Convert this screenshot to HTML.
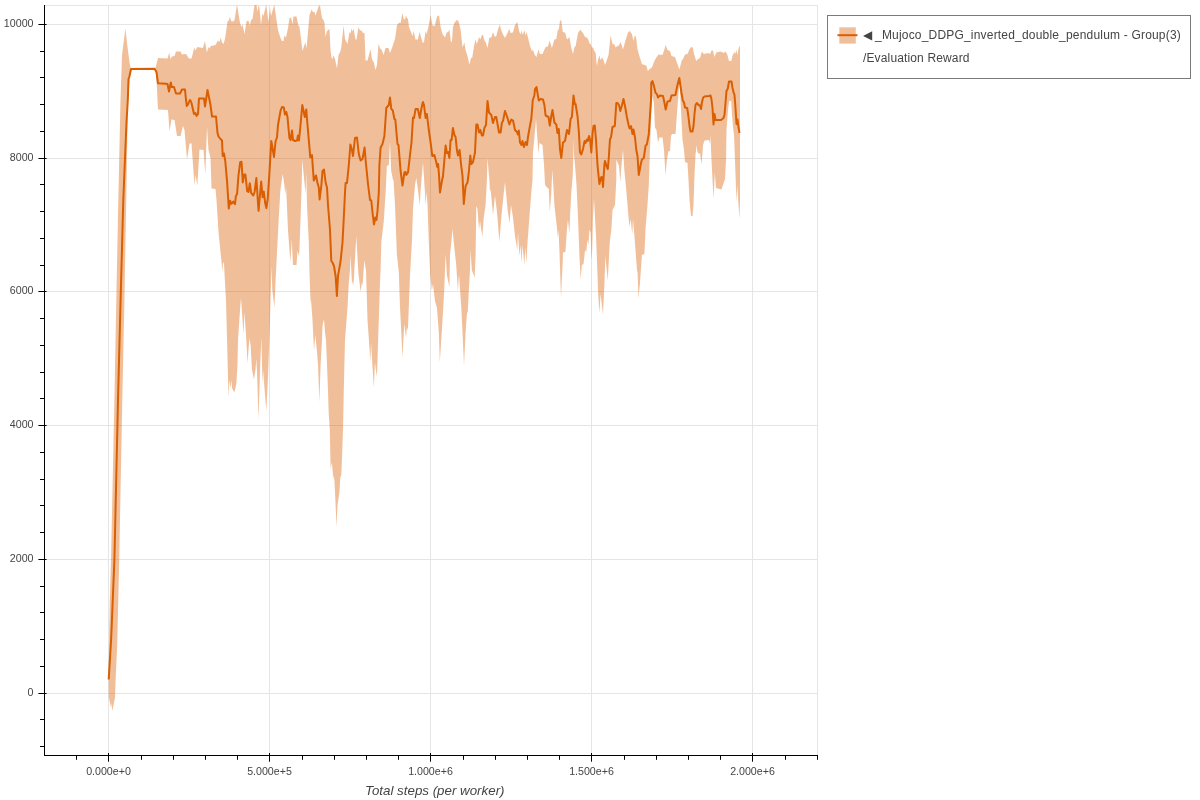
<!DOCTYPE html>
<html><head><meta charset="utf-8">
<style>
html,body{margin:0;padding:0;background:#fff;}
body{width:1200px;height:800px;overflow:hidden;position:relative;font-family:"Liberation Sans",sans-serif;}
svg{position:absolute;left:0;top:0;will-change:transform;}
text{font-family:"Liberation Sans",sans-serif;fill:#444;}
</style></head><body>
<svg width="1200" height="800" viewBox="0 0 1200 800">
<defs><clipPath id="fr"><rect x="45" y="5" width="773" height="750"/></clipPath></defs>
<!-- frame -->
<rect x="44.5" y="5.5" width="773" height="750" fill="#fff" stroke="#e5e5e5" stroke-width="1"/>
<!-- grid -->
<g stroke="#e5e5e5" stroke-width="1" shape-rendering="crispEdges">
<line x1="108.5" y1="5" x2="108.5" y2="755"/><line x1="269.5" y1="5" x2="269.5" y2="755"/><line x1="430.5" y1="5" x2="430.5" y2="755"/><line x1="591.5" y1="5" x2="591.5" y2="755"/><line x1="752.5" y1="5" x2="752.5" y2="755"/>
<line x1="45" y1="24.5" x2="818" y2="24.5"/><line x1="45" y1="158.5" x2="818" y2="158.5"/><line x1="45" y1="291.5" x2="818" y2="291.5"/><line x1="45" y1="425.5" x2="818" y2="425.5"/><line x1="45" y1="559.5" x2="818" y2="559.5"/><line x1="45" y1="693.5" x2="818" y2="693.5"/>
</g>
<g clip-path="url(#fr)">
<!--BAND--><polygon points="108.7,668 109,645 109.8,600 111,560 114.4,400 116.3,300 118.3,200 120.5,100 122,55 125.4,28.5 127.5,47 129.5,62 130.6,68 155,68.3 155.5,68 156.5,64 158,58 167.5,58.5 169.3,52.5 170.3,59 172,56.5 174.5,56 176,51.5 180.5,51.5 182,54.5 185,54 186.5,54.5 188.8,58.5 191.5,58.5 194.3,47.5 195.3,50.5 197.5,47 203,48 204.8,41 206,47 206.8,52.5 208.5,47 209.3,48.5 211,46 215.5,45 218,40.5 219.5,42 220.8,37.5 222,42.5 223.5,44 225,39 227.5,21.5 229,20 230,16.5 231,21 233,21.5 234.5,20 237,4.3 240,23 241.5,27 242.5,24.5 244.5,34 246.5,21.5 248,20.5 249,22 249.8,26 251,20 252.5,19 254.5,5 255.5,2 256.5,5 257.5,12 258.5,5 259.5,8 261,25 262.5,13 263.5,16 266.2,4.3 268.5,22 270,8 271,16 274.3,4.5 276.5,20 278,30 280.5,38 282,41 283.5,41 284.5,35.5 286,37.5 288,28 289.5,18 291,17.5 292.5,24 293.5,16.5 296.5,16.5 298.5,26 299.5,26.5 302.5,51 304,46 305.5,42.5 306.5,48.5 309.5,15 311.5,9.5 313,12 314.5,12 315.5,15.5 317,11 319,5.5 320,5.5 322,18 323.5,20 324.5,23 325.5,37 327,31 329.5,29 330.5,50 331.5,57.5 332.5,59 333.5,55.5 335,59 337,68.5 338.5,55 340.5,51 341.5,46 343.5,25.5 345,39 346,41 347.5,44 349.5,32 350.5,33.5 351.5,28.5 352.5,31.5 353.5,28.5 355.5,39.5 356.5,39.5 358.5,27 360,30.5 361.5,30.5 363,33 364.5,33 365.5,60.5 367.5,60.5 370.5,49 372,59 374,63 375.5,70 377,65 378.5,43.5 380,48 382,50.5 383.5,55 385.5,48 388.5,48 390,53 392,48 393.8,42.5 395,39 397,25 399.4,22.5 400.6,23 402.3,13 403.8,19 405,19.5 406,15.5 407,18 408,19 409,27 410.6,31 412.5,36 413.8,31 415.4,39.5 417.8,39.5 419.6,32 421.3,38 422.8,43 424,42 425.6,31 426.6,34 428.8,25 430.6,15 432.5,25.5 434.8,26 436,20.5 437.3,16 439,15.5 440.6,27 442.5,34 445,37.5 446.9,32 448,32.5 449.4,29.5 451,42.5 452,41 452.9,27.5 454.4,23 456.6,20 458.5,21 460.6,29.5 462.5,47.5 464.4,42.5 465.6,50 467.5,56 469.4,64.5 471,58 472.3,57.5 473.8,47.5 475.4,39.5 476.9,44 479,37 480.3,39.5 481.9,35 483,35 484.4,40.5 485.6,42 487.5,48 489.4,37.5 491.3,37.5 493,32 494.8,37 496.3,36 497.8,30 499.8,24.5 501.5,31 503,34.5 505,38 507.5,33 509.4,29 510.6,33 513,32.5 514.8,25.5 517.3,22 519.4,32 520.6,34.5 521.5,30.5 522.8,35 524.4,30 525.4,35.5 526.5,32 528,37.5 530,46 531.9,51 533,50 534.8,55 536.5,57 538.5,49.5 539.8,54 542.5,54 545.6,47 548,46.5 549.6,40.5 551.9,48 554.4,39.5 556.3,39 557.8,30 558.8,29.5 560,20.5 561.3,20.5 562.8,32 565,32.5 567,39.5 569.4,37 571.3,48 573,54 574.4,47.5 575.6,46 578,33 580.4,29.5 581.9,32 583,33 585,37 586.9,37.5 588,39 589.4,43 590.9,44.5 591.9,47.5 593,47.5 594.4,51 595.6,52.5 596.9,66 598,60 599.4,55.5 600.6,60 602.3,57.5 603.8,61 605,65 606.9,60 608.5,55 610.6,35.5 612.5,44 614.4,44.5 615.6,47.5 617.5,46 619,45.5 620.4,42 621.9,45.5 623,49.5 625.6,40 628,32.5 629.6,31 631.9,34 633.5,41 634.8,35.5 636,37 637.5,49 639.4,56 641.9,64 644.4,65 646.3,65.5 647.8,71 649.8,69 651.9,67.5 654.4,61 656.3,57.5 658.5,54.5 662.5,55 664.4,49.5 665.6,45 667.5,50 670,51 671.5,56 675,57 676.3,61 678,65.5 679.4,69.5 680.6,65 681.9,60 683,59 685,54.5 687.5,54 689.4,49.5 691,47 692.8,47.5 694,54 696.3,61 698,59 700,58 701.9,51.5 703.8,54 706.3,53.5 708,53 710,54 711.5,50.5 713,50.5 714.4,57 716.3,52.5 720,51.5 721.9,52 723.8,53 725.6,51.5 727.3,54.5 729,61 731.3,61 732.9,54.5 734.8,52 735.5,54 736.3,49.5 737.3,55 738.5,49 739.4,46 740,47 740,200 739.5,219 738.5,205 737.2,185 736.5,202.5 735.5,175 734.8,155 734,135 733,127 732,115 731.2,101 729.2,101 728,110 726.5,130 726,160 725,179 723,185 721.5,189.5 716,188 714.8,173 713.5,199 712,170 711,150 710.5,134.5 710,144 709,140 704.5,140.5 703,145 702.5,153 701.5,164.5 700,153 699,154 697.5,152 696.5,145.5 695.5,155 694.5,175 693.5,205 692.5,216 691,216 689.5,200 688.5,180 687.5,163 685,162 684,150 682.5,140 681.5,120 680.5,100 679.5,82 678,100 676.5,120 675.5,134 672,134 671,136 670,151 668.3,151.5 666.9,160 665.5,175.5 664,150 662.5,137.5 659.4,137.5 658,142.5 656.5,130 655,127.5 653.8,102.5 652.5,96 651.5,110 650.3,140 648.8,185 647.5,205 645.6,227.5 644.4,254 641.9,255 641.6,260 640,282.5 638.5,298 637.6,273 636.9,269 636.3,261 634.4,236 633,219 632.3,234 630.6,219 629.4,227 627.5,205 626,187 624.4,171 623,150 621.3,167.5 620.3,182.5 619,166 617.5,162.5 616.3,159.5 616.3,180 615,205 612.5,210 611.3,230 610,240 609.4,249 607.8,280.5 606,263 605.4,256 604.4,285 603,314.5 600.6,294 599.4,313 598,291 597.5,275 596.3,242.5 595,217.5 594,199 593,217.5 592.2,250 591.5,260 590.6,232.5 589.4,230 588.4,245 587.3,240 586.3,252 585,250 584.6,255 583.5,264 581.9,265 580.6,279.5 579.4,255 578,217.5 576.5,185 575,165 574,155 573.5,139.5 573.2,160 572.8,175 571.3,192.5 570,217.5 569.4,233 567.9,220 566.9,230 565.4,252 563,252.5 562.8,260 561,297.5 559.4,250 558.5,230 557.8,237.5 556.9,227.5 554.4,205 553.3,185 552.3,170 551.3,192.5 549.8,212.5 548.8,189 545.6,186 545,184 544,165 542.5,145 539.4,143 538.6,154 537.8,144 536,119 535,131 533,152.5 532.5,180 531.3,192.5 529.4,217.5 527.5,242.5 526.5,262.5 525.3,247.5 524.4,265 522.5,245 521.5,263 520.6,245 519.4,256 518,232.5 517.3,250 515,236 513,217.5 511,205 509.6,223 507.5,209 506,192.5 505,182.5 503.8,192.5 501.3,217.5 499.4,242 496.9,211 495,196 493,215 490.6,189 490,192.5 489.4,180 487.5,158 486.9,180 485.6,205 483.8,217.5 482.3,237 480,221 479,230 477.5,209 476.3,206 475.6,255 474.6,277.5 471.8,270 470.6,250 470,270 468.8,291 467.8,311 466.9,314 465.6,332.5 464,365.5 462.5,332.5 461.3,307.5 460,289 459,274 457.9,291 456.3,266 453.8,242.5 452.5,229 451.3,242.5 450,255 449.4,287.5 446.9,275 445.6,254 445,270 444,295 442.5,320 441.3,339 439.8,362.5 438.8,332.5 437.8,319 436.9,307.5 436,304.5 435,301 433,284 431.9,290.5 430.2,275 428.8,242.5 427.5,205 426.5,192 425.6,205 424.8,190 423,162.5 420.6,190 419.8,205.5 418,190 416.3,178 415,185 413,209 411.9,242.5 410,275 408.8,307.5 407.9,330 406.9,327.5 406,338 404.4,324 403.8,332.5 402.5,357.5 401.3,332.5 400,307.5 398.8,272 396.9,255 395,205 393.5,180 393,180 391.2,171 390,142 388.8,165 386.9,166 385.8,190 385.6,192.5 383.8,221 381.3,242.5 380.6,270 380,282.5 378.8,320 378.1,340 377.5,361.8 376.8,376.8 374.9,362.5 373.9,387.6 372.3,364 371.1,343 370.4,361.8 368.9,340 367.5,320 366,270 365.5,268 364.4,260 363.8,268 362.5,286 361.9,282.5 360.6,292 358.3,272 356.3,236 353.8,280 353.2,285.5 351.8,280 350.5,255 350,270 348.8,282.5 347.5,307.5 345.6,332.5 345,340 343.8,390 343,430 341.9,461 341.3,475 340.3,477.5 339.4,492.5 337.5,505 336.5,527 335.6,505 334.4,480 333,475 331.9,462.5 330.6,469 329.8,430 328.8,415 327.5,377.5 326,340 325,332.5 324,319 322.5,326 322,340 320.6,365 319.4,402 318,365 317,352 315.3,335 314,350.5 312.5,320 311,299 310.6,304 309.4,270 308.8,242.5 307,205 306.3,172 305.6,194 304,178 302.3,159.5 301.5,190 300.6,217.5 299.4,250 298.8,255.5 297.5,251 296.5,265 293,265 292.2,250 291.9,239 291.5,245 290.3,262 288,230 286.1,187 285.2,194.5 284.4,185 282.7,174 280.4,190 278.8,217.5 275.6,280 275.2,290 274.4,307.5 272.3,290 271.6,266 270.8,290 270,320 269.4,340 268,377.5 266.3,411 264,382 263.1,370 262.5,384 262,365 261.3,337.5 260,371 258.5,419 257,371 256.3,359 255.6,369 254,379.5 251.9,369 250.6,345 249.4,338 247.5,363 246.3,340 244.5,312 243.5,334 241,298 240,310 238,340 237.5,365 236.3,384 234.4,392.5 232,388 231.5,380 230.5,388 229.5,380 228.5,397 226,300 225.5,292 224,264 223,262 222.5,272 218.5,232 216.5,200 215.5,189 211.5,188.5 210.5,158 208.5,150 207,127 205.3,174.5 203.5,150 199.5,149.5 197.3,185.5 195.5,175 194.5,185.5 191.5,143.5 189.5,143.5 187,159.5 184.5,130 183,126 180.5,136 177,136 174.5,120 171.5,119.5 169.5,131.5 168,110 158,109.5 157.5,100 156.8,85 155.5,69 155,69.3 130.6,69.3 128,100 126.25,200 124.4,300 122.3,400 119.2,560 118.3,600 117.2,645 115.6,680 115,697.5 112.3,711 111.3,703 110.8,707 108.7,697" fill="#d95f02" fill-opacity="0.4" stroke="none"/><!--/BAND-->
<!--LINE--><polyline points="108.7,679.5 111.1,640 114.4,560 118,400 120.6,300 123.3,200 125,158 126.5,122 127.8,100 128.5,79 129.3,77 131,69 154.5,68.7 156.5,72 158,83.3 166,83.8 167.5,84 169,91.5 170.8,82.5 171.7,87 174,87 176,93.5 180,93.5 182,89.5 185,89.5 186,100 186.8,106 188,104.5 189.8,100 190.5,100.5 191.5,103 194,114 195.5,113 196.5,116 198,114 199,98.5 204,98.5 205,106.5 206,100 207.5,90 209,97.5 210.5,105 212,116.5 216,116.5 217.5,133 218.5,136.5 220.5,139 222,140.5 222.7,156 224,153.5 225.3,161.4 227,180.6 228.8,208.6 230.1,200.7 231.4,203.8 233.2,201.6 235,204.2 235.8,196.4 237.1,193.7 238.4,176.2 240.2,162.2 241.5,161.8 242.8,182.4 244.1,174.5 245.4,174.5 247.2,191.1 248.5,192 249.8,183.2 251.1,192.9 253.3,195.5 254.6,192 256.4,178 257.7,199 258.6,210.8 259.9,195.5 261.2,181.5 262.5,197.2 263.8,191.6 265.1,202.5 266.4,208.2 267.7,199 269.5,171.9 270.3,157.5 271.3,141 272.5,148 274,157 275.6,141 277,137.5 278,125 280.6,110.5 282,107 283.8,107.5 285,114.5 286.3,112 287.5,117 289.4,138 290.6,140 292,130.5 293,140 295,141 297,140.5 298,135.5 299,140.5 300.6,124 302.3,105 303.8,112 304.8,117 306.3,109.5 307,119 308.8,140 310.3,157.5 312,155 313,170 313.8,180.5 316,175.5 317.5,183 318.8,187.5 319.6,199.5 321.3,186 322.5,171 324,169.5 325.6,182.5 327,187.5 328,205 330,230 331.3,261 332.5,262.5 334,266 335.6,276 336.9,296 338,276 340.6,261 342.5,242.5 343.8,217.5 345,192.5 345.6,183 347,183 348.8,165 350.4,144.5 352,150 353,156 355,138 357,137.5 358.8,154 360.6,160.5 362.5,159 364.6,147.5 365.6,160 368,184 370,200 371.3,200.5 372.5,212.5 374,224.5 375.3,217.5 376.5,220 377.5,211 378.8,192.5 379.4,165 380.6,147.5 382.5,144 384.4,136 386.3,108 388.8,105 390,97.5 391.3,109 392.8,110.5 394.4,119 395.3,119.5 397.5,144 398.5,145 400.6,171 402.5,185.5 404.4,172.5 405.6,172 406.3,175 408,172.5 410,155 411.5,142.5 413,117.5 414,118 415.6,109 417.8,109 419.8,118 421.3,109 422.9,102 424,105 425.6,118 426.9,114 428.8,130 430.6,142.5 432.3,156 434.4,155 436.3,162.5 437.3,167 438.1,164 439,175 440,192.5 441.9,181 443,176 444.4,160 445.6,145.5 446.9,153 448.1,152 449.4,158 450.6,140 451.6,140 452.9,128 454.4,135 455.6,137 456.9,150 458,155.5 459.6,150 461,164 462.5,176 463.8,204 465.6,186 467.5,182.5 468.8,172.5 470.3,155.5 471.3,164 473,162 475,152.5 476.3,124.5 477.5,124.5 479,132.5 480.3,130 481.9,135.5 483,135.5 484.4,128 486,125 487.5,101 489,112.5 491.3,115 493,123 495,117 496.3,117 497.8,125.5 499,132.5 500.6,132.5 501.9,122.5 503,121 505,111 506.9,116 509.4,124.5 511.3,119.5 513,120.5 515,130 516.9,132 517.8,134.5 518.8,130.5 520,142.5 521.5,145 522.5,141 524,147 525.6,142 527,145 528,137 530,125.5 531.3,119 532.8,100 534.4,95.5 535,89 536.5,87 537.8,95 538.8,100.5 540.6,99 543,99.5 544.4,105 545.6,115.5 548.5,117 549.8,125.5 551.3,116 552.5,110 554.4,122.5 556.3,124.5 557.5,133 558.8,129 560,149 561.3,158 563,142.5 565,141 567,130 569,134 570.6,119 571.9,117 573.5,95.5 574.8,104 575.6,104 577.5,116 578.8,131 580,152.5 581.3,154.5 583,149 584.6,141 585.6,143 586.9,139.5 587.9,141 589,136 590.2,140 591.3,152.5 592.5,134 593.5,126 594.8,125.5 596,140 597.5,165 599.4,184 601.3,177 602.3,177.5 603,187 604.4,165 605,161 606.5,166 607.8,169 608.8,157.5 610,139 611,137.5 612.5,127 614.8,126 616.3,103 617.5,103 619,105 620.3,111 621.9,105.5 623.5,99 625,106 626.9,117 628.8,126 629.6,128.5 631,126 632.5,134 633.5,129.5 635,137.5 636.3,150 637.5,156 638.8,175 640.6,165 641.9,159.5 643.8,158 645.6,145.5 646.9,144.5 648.8,134 650,115 651,100 651.3,82.5 652.5,81 653.8,85.5 655.6,93 656.9,94 658,97.5 660,95.5 663,96 664.5,103 665.7,109.5 667.5,101.5 670,101 671.5,95.5 675.5,95 677,87 678.5,81 679.3,78 680.5,86 681.5,93 682.8,100.5 684,102.5 685,107.5 687.2,108 688.5,117 689.5,126 690.5,131.5 692.5,131.5 693.5,126 694.5,114 695.5,105 696.8,103 698.5,105 700,105.5 701,109 702,102 703.2,97.5 704.5,96.5 709,96 710.5,95.5 711.5,99.5 712.5,108 713.5,124.5 714.5,114 715.5,120 721,120 723.5,118 724.5,115 725.5,103 726.5,91 727.8,88.5 729,81.5 731.5,81.5 732.5,88 733.5,92 734.5,95 735.5,108 736.5,124 737.5,119.5 738.3,126 739.5,133" fill="none" stroke="#d95f02" stroke-width="2" stroke-linejoin="round" stroke-linecap="butt"/><!--/LINE-->
</g>
<!-- axes -->
<g stroke="#000" stroke-width="1" shape-rendering="crispEdges" id="axes">
<line x1="44.5" y1="5" x2="44.5" y2="756"/>
<line x1="44" y1="755.5" x2="818" y2="755.5"/>
</g>
<!--TICKS--><g stroke="#000" stroke-width="1">
<line x1="76.5" y1="755" x2="76.5" y2="759.8"/>
<line x1="108.5" y1="753" x2="108.5" y2="761.7"/>
<line x1="141.5" y1="755" x2="141.5" y2="759.8"/>
<line x1="173.5" y1="755" x2="173.5" y2="759.8"/>
<line x1="205.5" y1="755" x2="205.5" y2="759.8"/>
<line x1="237.5" y1="755" x2="237.5" y2="759.8"/>
<line x1="269.5" y1="753" x2="269.5" y2="761.7"/>
<line x1="302.5" y1="755" x2="302.5" y2="759.8"/>
<line x1="334.5" y1="755" x2="334.5" y2="759.8"/>
<line x1="366.5" y1="755" x2="366.5" y2="759.8"/>
<line x1="398.5" y1="755" x2="398.5" y2="759.8"/>
<line x1="430.5" y1="753" x2="430.5" y2="761.7"/>
<line x1="463.5" y1="755" x2="463.5" y2="759.8"/>
<line x1="495.5" y1="755" x2="495.5" y2="759.8"/>
<line x1="527.5" y1="755" x2="527.5" y2="759.8"/>
<line x1="559.5" y1="755" x2="559.5" y2="759.8"/>
<line x1="591.5" y1="753" x2="591.5" y2="761.7"/>
<line x1="624.5" y1="755" x2="624.5" y2="759.8"/>
<line x1="656.5" y1="755" x2="656.5" y2="759.8"/>
<line x1="688.5" y1="755" x2="688.5" y2="759.8"/>
<line x1="720.5" y1="755" x2="720.5" y2="759.8"/>
<line x1="752.5" y1="753" x2="752.5" y2="761.7"/>
<line x1="785.5" y1="755" x2="785.5" y2="759.8"/>
<line x1="817.5" y1="755" x2="817.5" y2="759.8"/>
<line x1="38.4" y1="24.5" x2="46.6" y2="24.5"/>
<line x1="40" y1="51.5" x2="44.6" y2="51.5"/>
<line x1="40" y1="77.5" x2="44.6" y2="77.5"/>
<line x1="40" y1="104.5" x2="44.6" y2="104.5"/>
<line x1="40" y1="131.5" x2="44.6" y2="131.5"/>
<line x1="38.4" y1="158.5" x2="46.6" y2="158.5"/>
<line x1="40" y1="184.5" x2="44.6" y2="184.5"/>
<line x1="40" y1="211.5" x2="44.6" y2="211.5"/>
<line x1="40" y1="238.5" x2="44.6" y2="238.5"/>
<line x1="40" y1="265.5" x2="44.6" y2="265.5"/>
<line x1="38.4" y1="291.5" x2="46.6" y2="291.5"/>
<line x1="40" y1="318.5" x2="44.6" y2="318.5"/>
<line x1="40" y1="345.5" x2="44.6" y2="345.5"/>
<line x1="40" y1="372.5" x2="44.6" y2="372.5"/>
<line x1="40" y1="398.5" x2="44.6" y2="398.5"/>
<line x1="38.4" y1="425.5" x2="46.6" y2="425.5"/>
<line x1="40" y1="452.5" x2="44.6" y2="452.5"/>
<line x1="40" y1="479.5" x2="44.6" y2="479.5"/>
<line x1="40" y1="505.5" x2="44.6" y2="505.5"/>
<line x1="40" y1="532.5" x2="44.6" y2="532.5"/>
<line x1="38.4" y1="559.5" x2="46.6" y2="559.5"/>
<line x1="40" y1="586.5" x2="44.6" y2="586.5"/>
<line x1="40" y1="612.5" x2="44.6" y2="612.5"/>
<line x1="40" y1="639.5" x2="44.6" y2="639.5"/>
<line x1="40" y1="666.5" x2="44.6" y2="666.5"/>
<line x1="38.4" y1="693.5" x2="46.6" y2="693.5"/>
<line x1="40" y1="719.5" x2="44.6" y2="719.5"/>
<line x1="40" y1="746.5" x2="44.6" y2="746.5"/>
</g><!--/TICKS-->
<!-- legend -->
<rect x="827.5" y="15.5" width="363" height="63" fill="#fff" fill-opacity="0.95" stroke="#7a7a7a" stroke-width="1"/>
<rect x="839.3" y="27.3" width="16.5" height="16.3" fill="#d95f02" fill-opacity="0.4"/>
<line x1="837.5" y1="35.2" x2="857.5" y2="35.2" stroke="#d95f02" stroke-width="2"/>
<text x="863" y="39" font-size="12" letter-spacing="0.19">◀ <tspan dx="-0.7">_Mujoco_DDPG_inverted_double_pendulum - Group(3)</tspan></text>
<text x="863" y="62" font-size="12" letter-spacing="0.14">/Evaluation Reward</text>
<!-- tick labels -->
<g font-size="10.67" text-anchor="middle">
<text x="108.5" y="775">0.000e+0</text><text x="269.5" y="775">5.000e+5</text><text x="430.5" y="775">1.000e+6</text><text x="591.5" y="775">1.500e+6</text><text x="752.5" y="775">2.000e+6</text>
</g>
<g font-size="10.67" text-anchor="end">
<text x="33.5" y="27">10000</text><text x="33.5" y="161">8000</text><text x="33.5" y="294">6000</text><text x="33.5" y="428">4000</text><text x="33.5" y="562">2000</text><text x="33.5" y="696">0</text>
</g>
<text x="365" y="795" font-size="13.33" font-style="italic">Total steps (per worker)</text>
</svg>
</body></html>
